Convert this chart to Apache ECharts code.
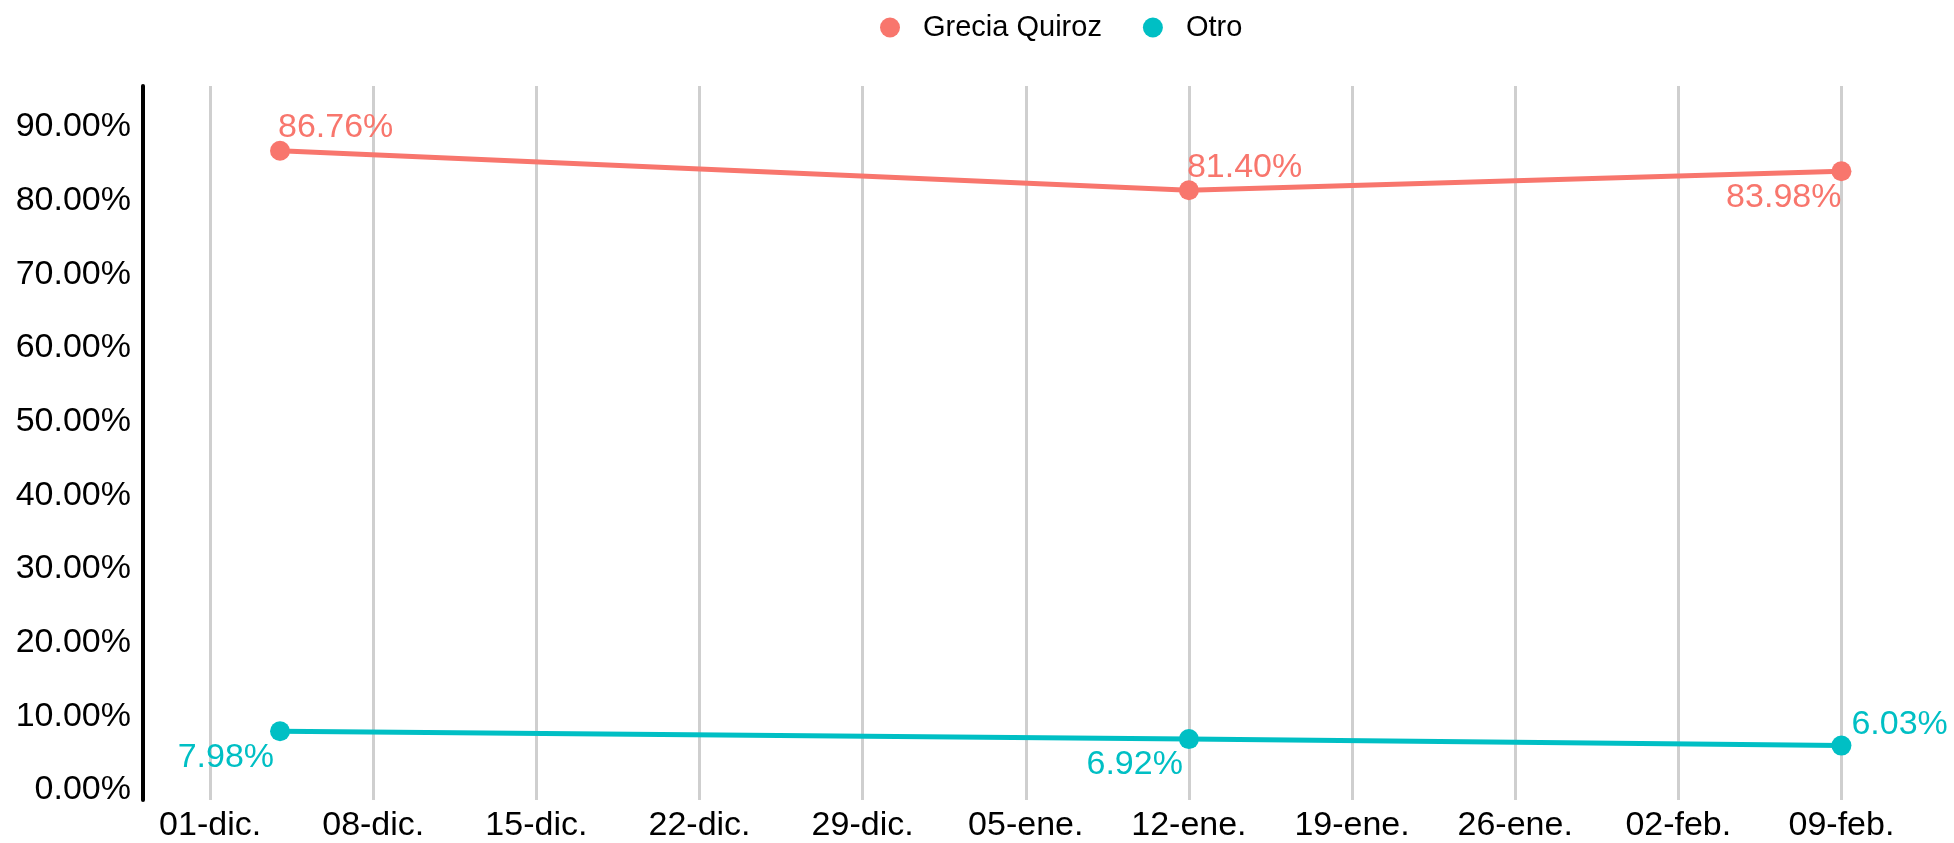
<!DOCTYPE html>
<html>
<head>
<meta charset="utf-8">
<script src="https://cdn.jsdelivr.net/npm/echarts@6/dist/echarts.min.js"></script>
<style>
  html, body { margin: 0; padding: 0; background: #fff; }
  #chart { width: 1954px; height: 843px; }
</style>
</head>
<body>
<div id="chart"></div>
<script>
// data
var seriesNames = ['Grecia Quiroz', 'Otro'];
var pointDates = ['2024-12-04', '2025-01-12', '2025-02-09'];
var greciaValues = [86.76, 81.40, 83.98];
var otroValues = [7.98, 6.92, 6.03];

// ticks
var xTickDates = ['2024-12-01', '2024-12-08', '2024-12-15', '2024-12-22', '2024-12-29',
  '2025-01-05', '2025-01-12', '2025-01-19', '2025-01-26', '2025-02-02', '2025-02-09'];
var xTickLabels = ['01-dic.', '08-dic.', '15-dic.', '22-dic.', '29-dic.',
  '05-ene.', '12-ene.', '19-ene.', '26-ene.', '02-feb.', '09-feb.'];
var yTickValues = [0, 10, 20, 30, 40, 50, 60, 70, 80, 90];

var colors = ['#F8766D', '#00BFC4'];

// where each value label sits around its point
var greciaLabelPos = [
  { align: 'left', verticalAlign: 'bottom', offset: [-2, -6] },
  { align: 'left', verticalAlign: 'bottom', offset: [-2, -6] },
  { align: 'right', verticalAlign: 'top', offset: [0, 9] }
];
var otroLabelPos = [
  { align: 'right', verticalAlign: 'top', offset: [-6, 9] },
  { align: 'right', verticalAlign: 'top', offset: [-6, 9] },
  { align: 'left', verticalAlign: 'bottom', offset: [10, -4] }
];

// x is counted in days from the first tick date
var DAY = 24 * 3600 * 1000;
function toDay(s) {
  var p = s.split('-');
  var t = Date.UTC(+p[0], +p[1] - 1, +p[2]);
  var p0 = xTickDates[0].split('-');
  return Math.round((t - Date.UTC(+p0[0], +p0[1] - 1, +p0[2])) / DAY);
}

var tickDays = xTickDates.map(toDay);
var labelByDay = {};
tickDays.forEach(function (d, i) { labelByDay[d] = xTickLabels[i]; });

function buildData(values, pos) {
  return values.map(function (v, i) {
    return {
      value: [toDay(pointDates[i]), v],
      label: pos[i]
    };
  });
}

var FONT = '"Liberation Sans", Arial, sans-serif';

var myChart = echarts.init(document.getElementById('chart'));

var option = {
  backgroundColor: '#fff',
  animation: false,
  color: colors,
  legend: {
    top: 8,
    left: 875,
    icon: 'circle',
    itemWidth: 20,
    itemHeight: 20,
    itemGap: 41,
    textStyle: { fontFamily: FONT, fontSize: 29, color: '#000', padding: [0, 0, 0, 18] },
    data: seriesNames
  },
  grid: { left: 143, right: 31, top: 86, bottom: 41 },
  xAxis: {
    type: 'value',
    min: -2.88,
    max: 73.5,
    axisLine: { show: false },
    axisTick: { show: false, customValues: tickDays },
    axisLabel: {
      customValues: tickDays,
      margin: 9,
      fontFamily: FONT,
      fontSize: 34,
      color: '#000',
      formatter: function (v) { return labelByDay[v] || ''; }
    },
    splitLine: { show: true, lineStyle: { color: '#cfcfcf', width: 3 } }
  },
  yAxis: {
    type: 'value',
    min: -1.35,
    max: 95.55,
    axisLine: { show: true, onZero: false, lineStyle: { color: '#000', width: 4 } },
    axisTick: { show: false },
    splitLine: { show: false },
    axisLabel: {
      customValues: yTickValues,
      margin: 12,
      fontFamily: FONT,
      fontSize: 34,
      color: '#000',
      formatter: function (v) { return v.toFixed(2) + '%'; }
    }
  },
  series: [
    {
      name: seriesNames[0],
      type: 'line',
      symbol: 'circle',
      symbolSize: 20,
      lineStyle: { width: 5 },
      label: {
        show: true,
        position: 'inside',
        fontFamily: FONT,
        fontSize: 34,
        color: colors[0],
        formatter: function (p) { return p.value[1].toFixed(2) + '%'; }
      },
      data: buildData(greciaValues, greciaLabelPos)
    },
    {
      name: seriesNames[1],
      type: 'line',
      symbol: 'circle',
      symbolSize: 20,
      lineStyle: { width: 5 },
      label: {
        show: true,
        position: 'inside',
        fontFamily: FONT,
        fontSize: 34,
        color: colors[1],
        formatter: function (p) { return p.value[1].toFixed(2) + '%'; }
      },
      data: buildData(otroValues, otroLabelPos)
    }
  ]
};

myChart.setOption(option);
window.addEventListener('resize', function () {
  myChart.resize();
});
</script>
</body>
</html>
